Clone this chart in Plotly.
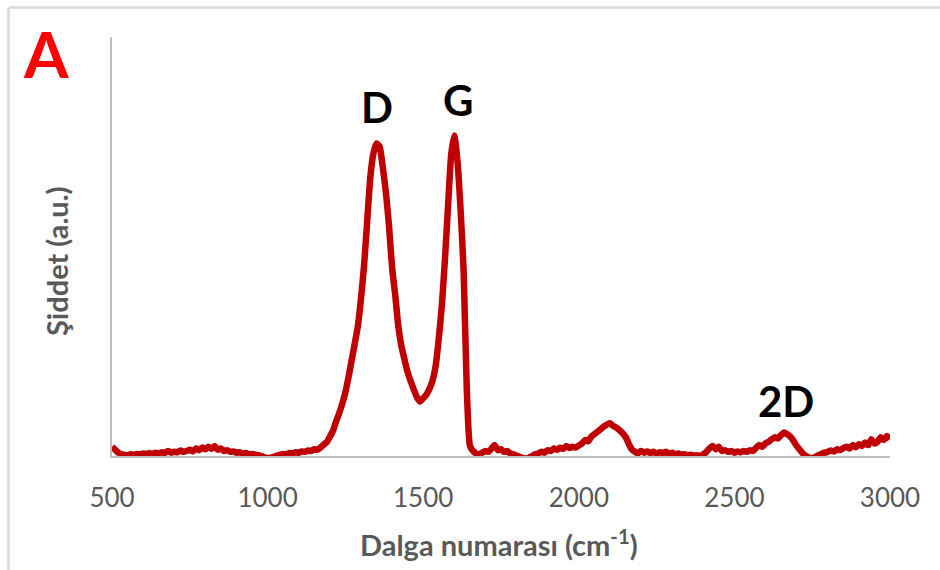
import plotly.graph_objects as go

# Raman spectrum (wavenumber in cm-1, intensity in a.u.)
wavenumber = [
    500, 510, 520, 530, 540, 550, 560, 570, 580, 590,
    600, 610, 620, 630, 640, 650, 660, 670, 680, 690,
    700, 710, 720, 730, 740, 750, 760, 770, 780, 790,
    800, 810, 820, 830, 840, 850, 860, 870, 880, 890,
    900, 910, 920, 930, 940, 950, 960, 970, 980, 990,
    1000, 1010, 1020, 1030, 1040, 1050, 1060, 1070, 1080, 1090,
    1100, 1110, 1120, 1130, 1140, 1150, 1160, 1170, 1180, 1190,
    1200, 1210, 1220, 1230, 1240, 1250, 1260, 1270, 1280, 1290,
    1300, 1310, 1320, 1330, 1340, 1350, 1360, 1370, 1380, 1390,
    1400, 1410, 1420, 1430, 1440, 1450, 1460, 1470, 1480, 1490,
    1500, 1510, 1520, 1530, 1540, 1550, 1560, 1570, 1580, 1590,
    1600, 1610, 1620, 1630, 1640, 1650, 1660, 1670, 1680, 1690,
    1700, 1710, 1720, 1730, 1740, 1750, 1760, 1770, 1780, 1790,
    1800, 1810, 1820, 1830, 1840, 1850, 1860, 1870, 1880, 1890,
    1900, 1910, 1920, 1930, 1940, 1950, 1960, 1970, 1980, 1990,
    2000, 2010, 2020, 2030, 2040, 2050, 2060, 2070, 2080, 2090,
    2100, 2110, 2120, 2130, 2140, 2150, 2160, 2170, 2180, 2190,
    2200, 2210, 2220, 2230, 2240, 2250, 2260, 2270, 2280, 2290,
    2300, 2310, 2320, 2330, 2340, 2350, 2360, 2370, 2380, 2390,
    2400, 2410, 2420, 2430, 2440, 2450, 2460, 2470, 2480, 2490,
    2500, 2510, 2520, 2530, 2540, 2550, 2560, 2570, 2580, 2590,
    2600, 2610, 2620, 2630, 2640, 2650, 2660, 2670, 2680, 2690,
    2700, 2710, 2720, 2730, 2740, 2750, 2760, 2770, 2780, 2790,
    2800, 2810, 2820, 2830, 2840, 2850, 2860, 2870, 2880, 2890,
    2900, 2910, 2920, 2930, 2940, 2950, 2960, 2970, 2980, 2990,
    3000,
]

intensity = [
    0.022, 0.015, 0.008, 0.004, 0.003, 0.002, 0.004, 0.003, 0.005, 0.004,
    0.006, 0.005, 0.007, 0.005, 0.008, 0.006, 0.009, 0.007, 0.012, 0.008,
    0.010, 0.009, 0.013, 0.010, 0.012, 0.015, 0.011, 0.018, 0.014, 0.020,
    0.016, 0.022, 0.017, 0.024, 0.015, 0.018, 0.012, 0.014, 0.010, 0.011,
    0.008, 0.009, 0.006, 0.007, 0.004, 0.005, 0.003, 0.002, 0.000, -0.003,
    -0.005, -0.004, -0.002, 0.001, 0.003, 0.005, 0.004, 0.007, 0.006, 0.009,
    0.008, 0.011, 0.010, 0.013, 0.012, 0.016, 0.015, 0.020, 0.027, 0.033,
    0.046, 0.060, 0.082, 0.102, 0.125, 0.152, 0.188, 0.228, 0.268, 0.310,
    0.375, 0.455, 0.560, 0.665, 0.722, 0.746, 0.738, 0.690, 0.630, 0.550,
    0.450, 0.385, 0.310, 0.262, 0.230, 0.200, 0.178, 0.158, 0.140, 0.130,
    0.138, 0.146, 0.160, 0.180, 0.215, 0.280, 0.360, 0.470, 0.600, 0.720,
    0.765, 0.705, 0.590, 0.440, 0.160, 0.025, 0.012, 0.006, 0.004, 0.008,
    0.012, 0.010, 0.018, 0.026, 0.014, 0.016, 0.010, 0.012, 0.006, 0.004,
    0.001, -0.002, -0.005, -0.006, -0.004, 0.000, 0.004, 0.006, 0.010, 0.008,
    0.014, 0.012, 0.018, 0.015, 0.020, 0.017, 0.024, 0.019, 0.022, 0.020,
    0.025, 0.030, 0.038, 0.035, 0.046, 0.052, 0.058, 0.064, 0.070, 0.075,
    0.078, 0.072, 0.068, 0.062, 0.055, 0.046, 0.030, 0.016, 0.010, 0.006,
    0.012, 0.008, 0.011, 0.007, 0.010, 0.006, 0.009, 0.007, 0.010, 0.005,
    0.008, 0.004, 0.006, 0.003, 0.004, 0.002, 0.003, 0.001, 0.002, 0.000,
    0.004, 0.010, 0.018, 0.024, 0.016, 0.022, 0.012, 0.014, 0.010, 0.012,
    0.008, 0.011, 0.009, 0.012, 0.010, 0.014, 0.012, 0.020, 0.026, 0.022,
    0.030, 0.034, 0.040, 0.045, 0.042, 0.050, 0.056, 0.052, 0.046, 0.036,
    0.024, 0.015, 0.006, 0.000, -0.004, -0.005, -0.002, 0.002, 0.005, 0.008,
    0.010, 0.013, 0.011, 0.016, 0.014, 0.019, 0.022, 0.018, 0.026, 0.021,
    0.028, 0.024, 0.032, 0.026, 0.040, 0.030, 0.034, 0.045, 0.038, 0.048,
    0.040,
]

x_ticks = [500, 1000, 1500, 2000, 2500, 3000]

peak_labels = ["D", "G", "2D"]
peak_label_x = [1352, 1612, 2666]
peak_label_y = [0.833, 0.850, 0.131]

panel_label = "A"
x_title = "Dalga numarası (cm<sup>-1</sup>)"
y_title = "Şiddet (a.u.)"

FONT = "Lato"
GREY_TEXT = "#595959"
AXIS_GREY = "#BFBFBF"
LINE_RED = "#C00000"

fig = go.Figure()
fig.add_trace(go.Scatter(
    x=wavenumber, y=intensity, mode="lines",
    line=dict(color=LINE_RED, width=6.5, shape="spline", smoothing=0.5),
    showlegend=False, hoverinfo="skip",
))

annotations = []
for t, xv, yv in zip(peak_labels, peak_label_x, peak_label_y):
    annotations.append(dict(
        x=xv, y=yv, xref="x", yref="y", text="<b>%s</b>" % t, showarrow=False,
        font=dict(family=FONT, size=42, color="#000000"),
        xanchor="center", yanchor="middle",
    ))

annotations += [
    dict(x=-0.0848, y=0.96, xref="paper", yref="paper", text="<b>%s</b>" % panel_label,
         showarrow=False, font=dict(family=FONT, size=64, color="#FF0000"),
         xanchor="center", yanchor="middle"),
    dict(x=0.4974, y=-0.2076, xref="paper", yref="paper", text="<b>%s</b>" % x_title,
         showarrow=False, font=dict(family=FONT, size=29, color=GREY_TEXT),
         xanchor="center", yanchor="middle"),
    dict(x=-0.0707, y=0.4654, xref="paper", yref="paper", text="<b>%s</b>" % y_title,
         showarrow=False, textangle=-90, font=dict(family=FONT, size=29, color=GREY_TEXT),
         xanchor="center", yanchor="middle"),
]

# figure frame (light grey top and left edges)
L, R, T, B = 112, 50, 37, 114
PW, PH = 940 - L - R, 570 - T - B
def px(xp):
    return (xp - L) / PW
def py(yp):
    return (570 - B - yp) / PH

shapes = [
    dict(type="line", xref="paper", yref="paper", x0=px(9), x1=px(945), y0=py(7.5), y1=py(7.5),
         line=dict(color="#D9D9D9", width=2.5)),
    dict(type="line", xref="paper", yref="paper", x0=px(8.5), x1=px(8.5), y0=py(7.5), y1=py(575),
         line=dict(color="#D9D9D9", width=2.5)),
]

fig.update_layout(
    width=940, height=570,
    margin=dict(l=L, r=R, t=T, b=B),
    paper_bgcolor="white", plot_bgcolor="white",
    annotations=annotations, shapes=shapes,
    xaxis=dict(
        range=[500, 3000], tickvals=x_ticks, ticktext=[str(v) for v in x_ticks],
        showgrid=False, zeroline=False, showline=True, linecolor=AXIS_GREY, linewidth=1.5,
        ticks="", tickfont=dict(family=FONT, size=26, color=GREY_TEXT),
        ticklabelstandoff=18, layer="below traces",
    ),
    yaxis=dict(
        range=[0, 1], showgrid=False, zeroline=False, showline=True, linecolor=AXIS_GREY,
        linewidth=1.5, showticklabels=False, ticks="", layer="below traces",
    ),
)

fig.write_html("out.html")
